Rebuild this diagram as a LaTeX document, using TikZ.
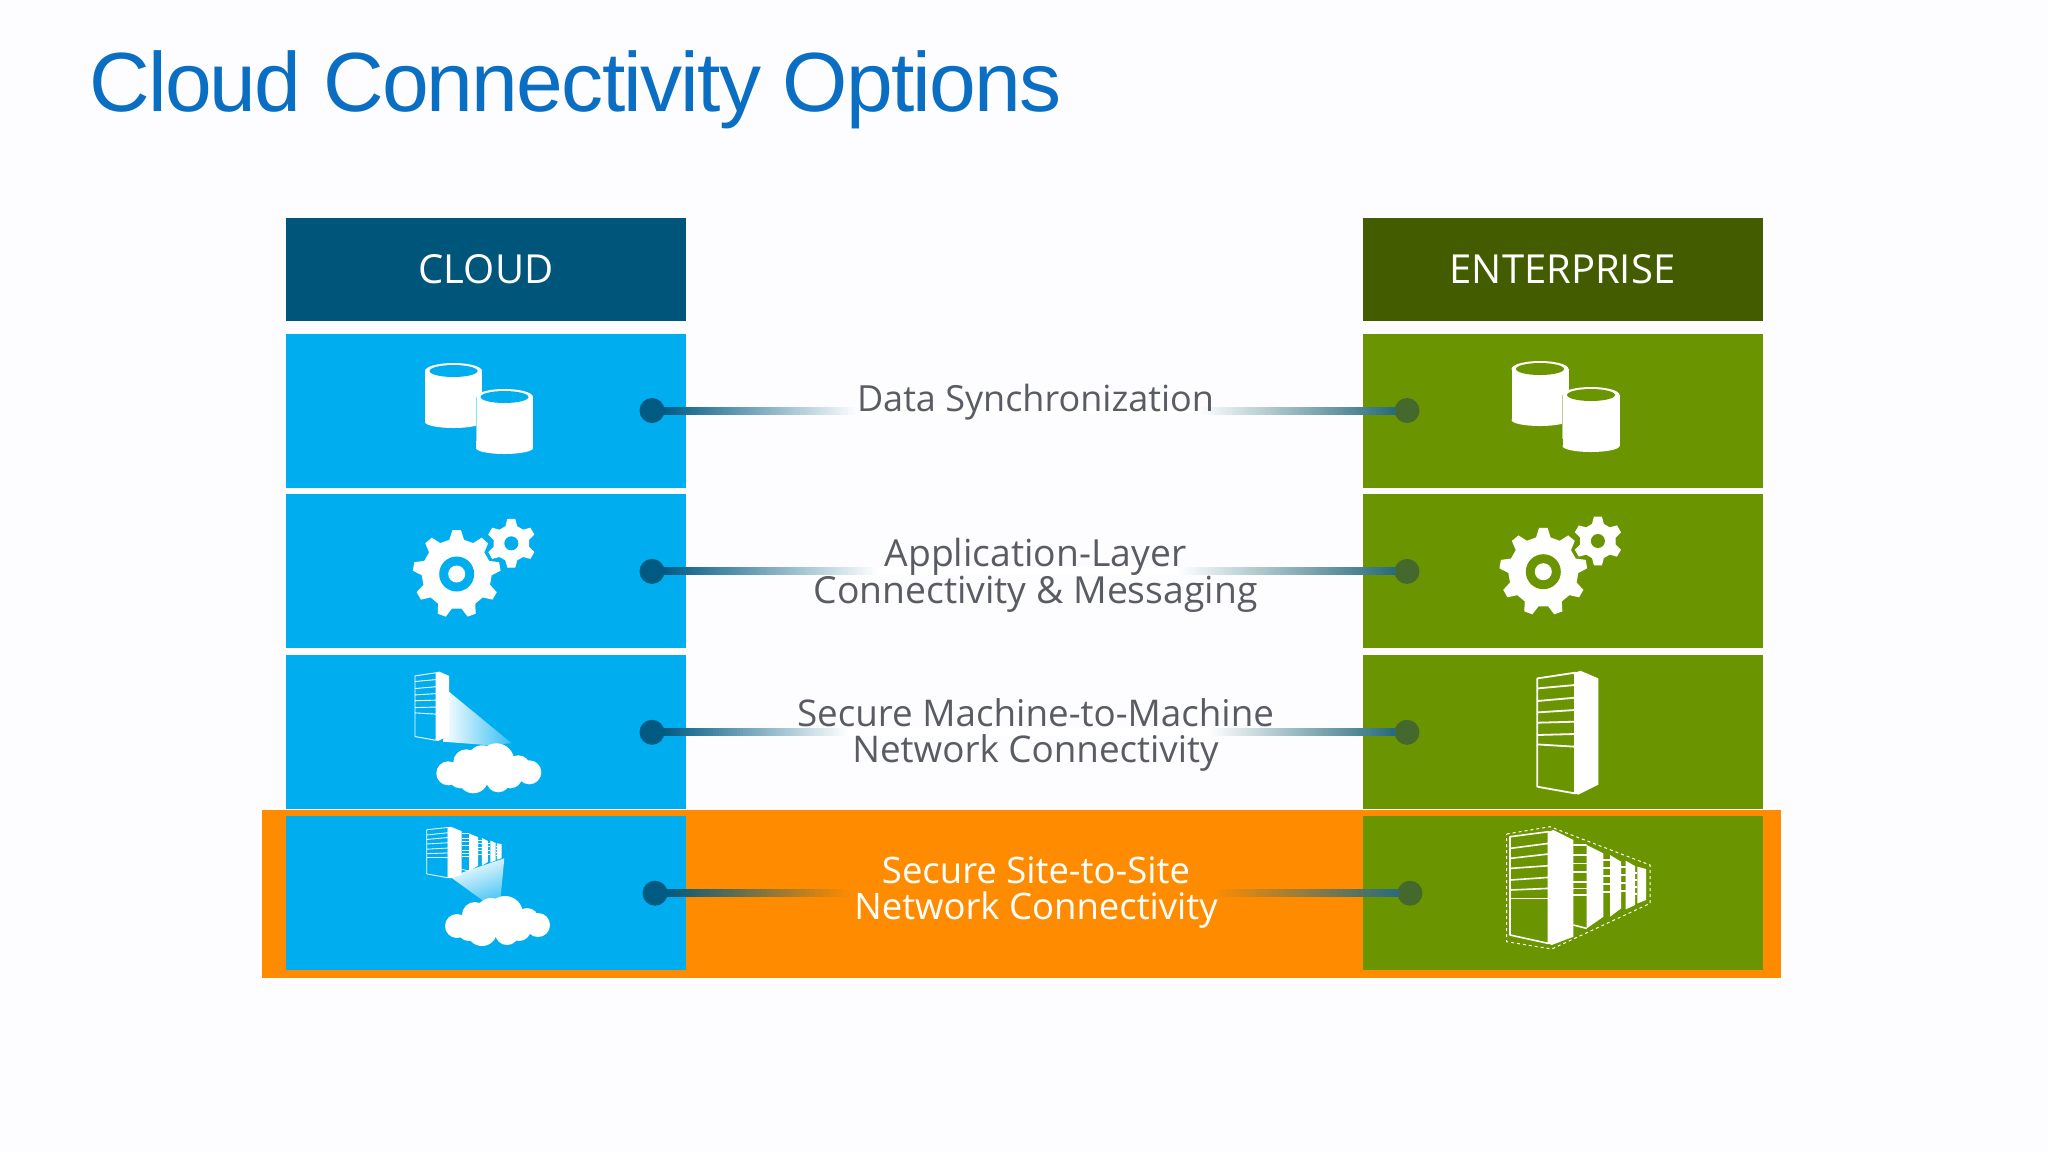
\documentclass[tikz,border=0pt]{standalone}
\usepackage{fontspec}
\setmainfont{Open Sans}
\newfontfamily\titlefont[LetterSpace=-2.1]{Liberation Sans}
\usetikzlibrary{calc,decorations.markings}

\definecolor{skyblue}{HTML}{00AEEF}
\definecolor{leafgreen}{HTML}{6B9500}
\definecolor{headblue}{HTML}{00567A}
\definecolor{headgreen}{HTML}{445C00}
\definecolor{bandorange}{HTML}{FF8C00}
\definecolor{dotblue}{HTML}{005A82}
\definecolor{dotgreen}{HTML}{45682C}
\definecolor{linkblue}{HTML}{005A82}
\definecolor{linkteal}{HTML}{2A6C7C}
\definecolor{textgrey}{HTML}{5A5C64}
\definecolor{titleblue}{HTML}{0A6FC2}
\definecolor{paper}{HTML}{FDFCFF}

\tikzset{
  box/.style={minimum width=400pt,minimum height=154pt,inner sep=0pt,fill=#1},
  head/.style={minimum width=400pt,minimum height=103pt,inner sep=0pt,fill=#1,text=white,
    font=\fontsize{40}{40}\selectfont},
  dot/.style={circle,minimum size=25pt,inner sep=0pt,fill=#1},
  lbl/.style={align=center,inner sep=0pt,anchor=base,text=textgrey,
    font=\fontsize{#1}{36}\selectfont},
  lbl/.default=36.8,
  link/.style 2 args={draw=none,postaction={decorate,decoration={markings,
    mark=between positions 0 and 1 step 3pt with {
      \pgfmathsetmacro\dist{\pgfkeysvalueof{/pgf/decoration/mark info/distance from start}}
      \pgfmathsetmacro\halfway{\pgfdecoratedpathlength/2}
      \pgfmathsetmacro\near{min(\dist,\pgfdecoratedpathlength-\dist)}
      \pgfmathsetmacro\mixv{max(0,100*(1-\near/(\halfway-#2)))}
      \ifdim\dist pt<\halfway pt
        \fill[linkblue!\mixv!#1] (-2.5pt,-4pt) rectangle (2.5pt,4pt);
      \else
        \fill[linkteal!\mixv!#1] (-2.5pt,-4pt) rectangle (2.5pt,4pt);
      \fi}}}},
  pics/gear/.style n args={4}{code={
    \fill[white,pic actions] ({#2-0.30*360/#1}:#4 pt)
      \foreach \i in {1,...,#1} {
        -- ({#2+(\i-1)*360/#1-0.30*360/#1}:#4 pt)
        -- ({#2+(\i-1)*360/#1-0.14*360/#1}:#3 pt)
        -- ({#2+(\i-1)*360/#1+0.14*360/#1}:#3 pt)
        -- ({#2+(\i-1)*360/#1+0.30*360/#1}:#4 pt)
      } -- cycle;
  }},
  pics/gears/.style={code={
    \pic {gear={9}{90}{44}{35}};
    \fill[#1] (0,0) circle (17.5pt);
    \fill[white] (0,0) circle (8.5pt);
    \pic[draw=#1,line width=1.2pt] at (54.6,-30.7) {gear={6}{90}{24}{17.5}};
    \fill[#1] (54.6,-30.7) circle (7pt);
  }},
  pics/dbs/.style={code={
    \foreach \dx/\dy in {0/0,51/26} {
      \begin{scope}[shift={(\dx,\dy)}]
        \fill[white] (-28.5,0) rectangle (28.5,51);
        \fill[white] (0,0) ellipse [x radius=28.5,y radius=8];
        \fill[white] (0,51) ellipse [x radius=28.5,y radius=6];
        \fill[#1] (0,0) ellipse [x radius=24,y radius=6];
      \end{scope}}
    \draw[#1!45!white,line width=.8pt] (22.5,26) -- (22.5,70);
  }},
  pics/tower/.style={code={
    \draw[white,line join=round] (0,5.7) -- (37.7,0) -- (37.7,120.7) -- (0,114) -- cycle;
    \fill[white] (37.7,0) -- (43,-2) -- (61,5.7) -- (61,112) -- (41,122) -- (37.7,120.7) -- cycle;
    \foreach \ya/\yb in {15.7/12.3,28.3/25,39.7/37.3,50/49,62.3/61.3,71.7/74}
      \draw[white] (0,\ya) -- (37.7,\yb);
  }},
  pics/farm/.style={code={
    \draw[white,line join=round] (3.3,10) -- (41.7,5) -- (41.7,116.7) -- (3.3,108.3) -- cycle;
    \fill[white] (41.7,5) -- (46.7,3.3) -- (66.7,13.3) -- (66.7,110) -- (45,118.3) -- (41.7,116.7) -- cycle;
    \foreach \ya/\yb in {21.7/16.7,31.7/27.3,41.7/39,53.3/50.7,63.3/61.7,71.7/71.7}
      \draw[white] (3.3,\ya) -- (41.7,\yb);
    \fill[white] (80,18.3) -- (96.7,26.7) -- (96.7,90) -- (80,101.7) -- cycle;
    \draw[white] (66.7,18.3) -- (80,18.3) (66.7,98.3) -- (80,101.7);
    \foreach \y in {28.3,36.7,45,55,61.7,68.3} \draw[white] (66.7,\y) -- (80,\y);
    \fill[white] (103.3,28.3) -- (114.3,35) -- (114.3,81.7) -- (103.3,90) -- cycle;
    \foreach \y in {33,41,49,57,65} \draw[white] (96.7,\y) -- (103.3,\y);
    \fill[white] (119,34) -- (128.3,39.3) -- (128.3,78.3) -- (119,82.7) -- cycle;
    \foreach \y in {40,48,56,64} \draw[white] (114.3,\y) -- (119,\y);
    \fill[white] (130.7,40) -- (139.3,42.3) -- (139.3,73.3) -- (130.7,76.7) -- cycle;
    \foreach \y in {46,53,60,67} \draw[white] (128.3,\y) -- (130.7,\y);
  }},
  pics/cloud/.style={code={
    \foreach \x/\y/\r in {-40/5/12,-22/-6/13,8/-7/18,-15/10/15,10/12/12,30/-1/12,41/4/12,-28/8/12,22/8/12,-6/-8/15}
      \fill[white] (\x,\y) circle (\r pt);
  }},
}

\begin{document}
\begin{tikzpicture}[x=1pt,y=-1pt,node distance=160.9pt]

  \fill[paper] (0,0) rectangle (2048,1152);
  \useasboundingbox (0,0) rectangle (2048,1152);

  \node[anchor=base west,inner sep=0pt,text=titleblue,font=\titlefont\fontsize{84}{84}\selectfont]
    (title) at (89,111) {Cloud Connectivity Options};

  \node[minimum width=1519pt,minimum height=168pt,inner sep=0pt,fill=bandorange] (band) at (1021.5,894) {};

  \node[head=headblue] (c_h) at (486,269.5) {CLOUD};
  \node[head=headgreen] (e_h) at (1562.5,269.5) {ENTERPRISE};

  \node[box=skyblue] (c_1) at (486,410.5) {};
  \node[box=skyblue] (c_2) [below of=c_1] {};
  \node[box=skyblue] (c_3) [below of=c_2] {};
  \node[box=skyblue] (c_4) [below of=c_3] {};
  \node[box=leafgreen] (e_1) at (1562.5,410.5) {};
  \node[box=leafgreen] (e_2) [below of=e_1] {};
  \node[box=leafgreen] (e_3) [below of=e_2] {};
  \node[box=leafgreen] (e_4) [below of=e_3] {};

  \node[dot=dotblue] (c_d1) [right of=c_1,node distance=166pt] {};
  \node[dot=dotblue] (c_d2) [right of=c_2,node distance=166pt] {};
  \node[dot=dotblue] (c_d3) [right of=c_3,node distance=166pt] {};
  \node[dot=dotblue] (c_d4) [right of=c_4,node distance=169pt] {};
  \node[dot=dotgreen] (e_d1) [left of=e_1,node distance=155.5pt] {};
  \node[dot=dotgreen] (e_d2) [left of=e_2,node distance=155.5pt] {};
  \node[dot=dotgreen] (e_d3) [left of=e_3,node distance=155.5pt] {};
  \node[dot=dotgreen] (e_d4) [left of=e_4,node distance=152.5pt] {};

  \draw[link={white}{170}] (c_d1) -- (e_d1)
    node[lbl=36,midway,xshift=6pt,yshift=-1pt] (l_1) {Data Synchronization};
  \draw[link={white}{150}] (c_d2) -- (e_d2)
    node[lbl=37.3,midway,xshift=6pt,yshift=-32pt] (l_2) {Application-Layer\\Connectivity \& Messaging};
  \draw[link={white}{180}] (c_d3) -- (e_d3)
    node[lbl,midway,xshift=6pt,yshift=-30pt] (l_3) {Secure Machine-to-Machine\\Network Connectivity};
  \draw[link={bandorange}{180}] (c_d4) -- (e_d4)
    node[lbl=36.5,midway,xshift=3.5pt,yshift=-26pt,text=white] (l_4) {Secure Site-to-Site\\Network Connectivity};

  \pic at ($(c_1)+(-32.5,-39.5)$) {dbs=skyblue};
  \pic at ($(e_1)+(-22.5,-41.5)$) {dbs=leafgreen};
  \pic at ($(c_2)+(-29.3,2.6)$) {gears=skyblue};
  \pic at ($(e_2)+(-19.2,0.3)$) {gears=leafgreen};

  \shade[left color=white,right color=skyblue!80!white]
    ($(c_3)+(-37,-40.6)$) -- ($(c_3)+(25.7,11)$) -- ($(c_3)+(.7,12.7)$) -- ($(c_3)+(-43,9.4)$) -- cycle;
  \pic[scale=.56,line width=.9pt] at ($(c_3)+(-71,-59.6)$) {tower};
  \pic at ($(c_3)+(2.3,36)$) {cloud};
  \pic[line width=1.8pt] at ($(e_3)+(-25.2,-59.6)$) {tower};

  \shade[left color=white,right color=skyblue!70!white,shading angle=20]
    ($(c_4)+(-36,-16.5)$) -- ($(c_4)+(18.3,-34.9)$) -- ($(c_4)+(14.7,3.5)$) -- ($(c_4)+(.7,10.1)$) -- cycle;
  \pic[xscale=.55,yscale=.45,line width=.8pt] at ($(c_4)+(-61,-68)$) {farm};
  \pic at ($(c_4)+(11,27.8)$) {cloud};
  \pic[line width=1.6pt] at ($(e_4)+(-55.8,-66.5)$) {farm};
  \draw[white,dashed,line width=1pt,shift={(e_4.center)}]
    (-55.8,-59.2) -- (-12.5,-66.5) -- (87.5,-28.2) -- (87.5,10.2) -- (-10.8,55.8) -- (-55.8,48.5) -- cycle;

\end{tikzpicture}
\end{document}
